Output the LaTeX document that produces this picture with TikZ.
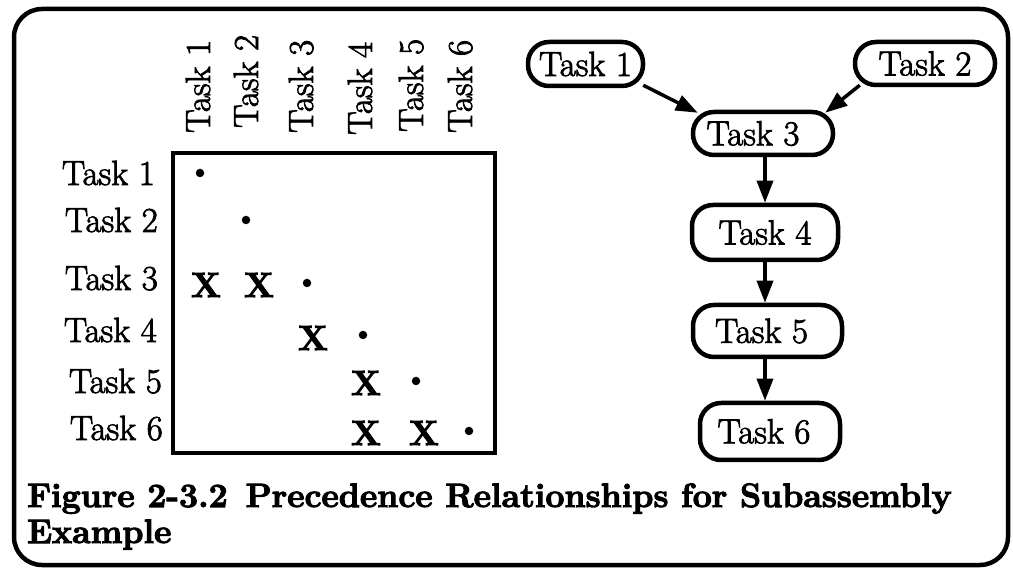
\documentclass[tikz,border=0pt]{standalone}
\usepackage{fontspec}
\newfontfamily\taskfont{Latin Modern Roman}[FakeBold=2.2]
\newfontfamily\heavyfont{Latin Modern Roman}[FakeBold=3]
\usetikzlibrary{arrows.meta}
\begin{document}
\begin{tikzpicture}[x=1pt,y=-1pt,
  lbl/.style={inner sep=0pt, font=\taskfont\fontsize{35}{40}\selectfont},
  collbl/.style={lbl, rotate=90, anchor=base west},
  rowlbl/.style={lbl, anchor=base east},
  dotmark/.style={circle, fill, inner sep=0pt, minimum size=8.5pt},
  xmark/.style={inner sep=0pt, font=\heavyfont\fontsize{35}{40}\selectfont\bfseries},
  task/.style={draw, line width=4.5pt, rounded corners=21pt, inner sep=0pt, font=\taskfont\fontsize{35}{40}\selectfont},
  flow/.style={line width=3.5pt, -{Triangle[length=22pt,width=16pt]}},
  captext/.style={inner sep=0pt, anchor=base west, font=\heavyfont\fontsize{33.8}{38}\selectfont\bfseries}
]
\useasboundingbox (0,0) rectangle (1013,569);
% outer frame
\draw[line width=4.5pt, rounded corners=28pt] (14,9) rectangle (1008,565);

% matrix
\node[draw, line width=4.5pt, minimum width=322pt, minimum height=300pt, inner sep=0pt] (mat) at (334,303) {};

% column labels
\node[collbl] (c1) at (210,133) {Task 1};
\node[collbl] (c2) at (258,128) {Task 2};
\node[collbl] (c3) at (313,133) {Task 3};
\node[collbl] (c4) at (372,135) {Task 4};
\node[collbl] (c5) at (423,132) {Task 5};
\node[collbl] (c6) at (472,133) {Task 6};

% row labels
\node[rowlbl] (r1) at (155,185) {Task 1};
\node[rowlbl] (r2) at (158,232) {Task 2};
\node[rowlbl] (r3) at (158,290) {Task 3};
\node[rowlbl] (r4) at (157,342) {Task 4};
\node[rowlbl] (r5) at (162,393) {Task 5};
\node[rowlbl] (r6) at (163,440) {Task 6};

% entries
\node[dotmark] (d1) at (200,173) {};
\node[dotmark] (d2) at (246,220) {};
\node[xmark] (x31) at (206,285) {X};
\node[xmark] (x32) at (259,285) {X};
\node[dotmark] (d3) at (307,283) {};
\node[xmark] (x43) at (313,338) {X};
\node[dotmark] (d4) at (363,335) {};
\node[xmark] (x54) at (366,383) {X};
\node[dotmark] (d5) at (416,381) {};
\node[xmark] (x64) at (366,433) {X};
\node[xmark] (x65) at (424,433) {X};
\node[dotmark] (d6) at (469,431) {};

% precedence graph
\node[task, minimum width=115pt, minimum height=44pt] (t1) at (585.5,64) {Task 1};
\node[task, minimum width=140pt, minimum height=43pt] (t2) at (925,63.5) {Task 2};
\node[task, minimum width=140pt, minimum height=43pt] (t3) at (763,133.5) {Task 3\hspace*{20pt}};
\node[task, minimum width=146pt, minimum height=55pt] (t4) at (765,232.5) {Task 4};
\node[task, minimum width=149pt, minimum height=52pt] (t5) at (767.5,331) {Task 5\hspace*{12pt}};
\node[task, minimum width=140pt, minimum height=57pt] (t6) at (770,431.5) {Task 6\hspace*{12pt}};

\draw[flow] ([xshift=-2pt,yshift=3pt]t1.south east) -- ([xshift=7pt,yshift=-3pt]t3.north west);
\draw[flow] ([xshift=7pt,yshift=2pt]t2.south west) -- ([xshift=-10pt,yshift=-3pt]t3.north east);
\draw[flow] (t4.north |- t3.south) -- (t4.north);
\draw[flow] (t4.south) -- (t4.south |- t5.north);
\draw[flow] (t4.south |- t5.south) -- (t4.south |- t6.north);

% caption
\node[captext] (cap1) at (27,507) {Figure 2-3.2\hspace{18pt}Precedence Relationships for Subassembly};
\node[captext] (cap2) at (27,543) {Example};
\end{tikzpicture}
\end{document}
